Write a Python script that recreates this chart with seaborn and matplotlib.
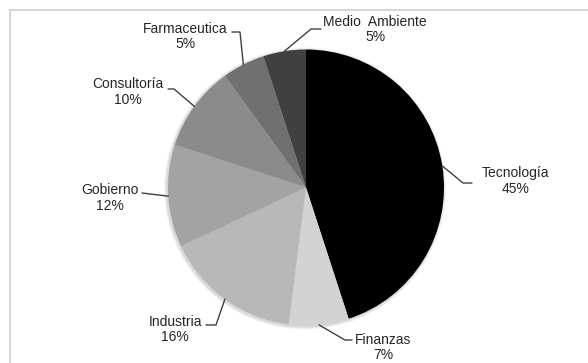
import matplotlib
matplotlib.use("Agg")
import matplotlib.pyplot as plt
import seaborn as sns
import numpy as np

sns.set_theme(style="white")
plt.rcParams["font.family"] = ["Liberation Sans", "DejaVu Sans"]

# Sector shares (percent), clockwise from 12 o'clock
sectors = ["Tecnología", "Finanzas", "Industria", "Gobierno",
           "Consultoría", "Farmaceutica", "Medio  Ambiente"]
shares = [45, 7, 16, 12, 10, 5, 5]
colors = ["#000000", "#d3d3d3", "#b8b8b8", "#a3a3a3",
          "#8b8b8b", "#707070", "#404040"]

W, H = 588, 363
fig = plt.figure(figsize=(W / 100, H / 100), dpi=100)
ax = fig.add_axes([0, 0, 1, 1])
ax.set_xlim(0, W)
ax.set_ylim(0, H)
ax.set_axis_off()


def Y(y):
    # measure from the top edge
    return H - y


cx, cy, r = 306, Y(187.5), 138

# faint frame at top and left
ax.plot([10, W], [Y(9.5), Y(9.5)], color="#cfcfcf", lw=1.2, zorder=0)
ax.plot([10, 10], [Y(9.5), 0], color="#cfcfcf", lw=1.2, zorder=0)

# soft shadow under the pie
for k, a in enumerate([0.10, 0.08, 0.06]):
    ax.add_patch(plt.Circle((cx - 1, cy - 1), r + 1 + k, color="#555555",
                            alpha=a, lw=0, zorder=1))

wedges, _ = ax.pie(shares, colors=colors, startangle=90, counterclock=False,
                   radius=r, center=(cx, cy), frame=True,
                   wedgeprops=dict(linewidth=0))
for w in wedges:
    w.set_zorder(2)
ax.set_xlim(0, W)
ax.set_ylim(0, H)
ax.set_aspect("equal")
ax.set_axis_off()

# label layout: elbow points of the leader line and text centre (pixels from top-left)
layout = {
    "Tecnología": ([(463, 183), (472, 183)], (516, 181)),
    "Finanzas": ([(345, 340), (352, 340)], (383, 347.5)),
    "Industria": ([(216, 325), (206, 325)], (175, 329.5)),
    "Gobierno": ([(142, 193)], (110, 198)),
    "Consultoría": ([(174, 89), (168, 89)], (128, 92)),
    "Farmaceutica": ([(240, 32), (232, 32)], (185, 36.5)),
    "Medio  Ambiente": ([(311, 29), (321, 29)], (375, 29.5)),
}

for w, name, val in zip(wedges, sectors, shares):
    mid = np.deg2rad((w.theta1 + w.theta2) / 2)
    ex, ey = cx + r * np.cos(mid), cy + r * np.sin(mid)
    pts, (tx, ty) = layout[name]
    xs = [ex] + [p[0] for p in pts]
    ys = [ey] + [Y(p[1]) for p in pts]
    ax.plot(xs, ys, color="#404040", lw=1.0, zorder=3)
    ax.text(tx, Y(ty), f"{name}\n{val}%", ha="center", va="center",
            fontsize=10, color="#262626", linespacing=1.15, zorder=4)

fig.savefig("out.png", dpi=100, facecolor="white")
